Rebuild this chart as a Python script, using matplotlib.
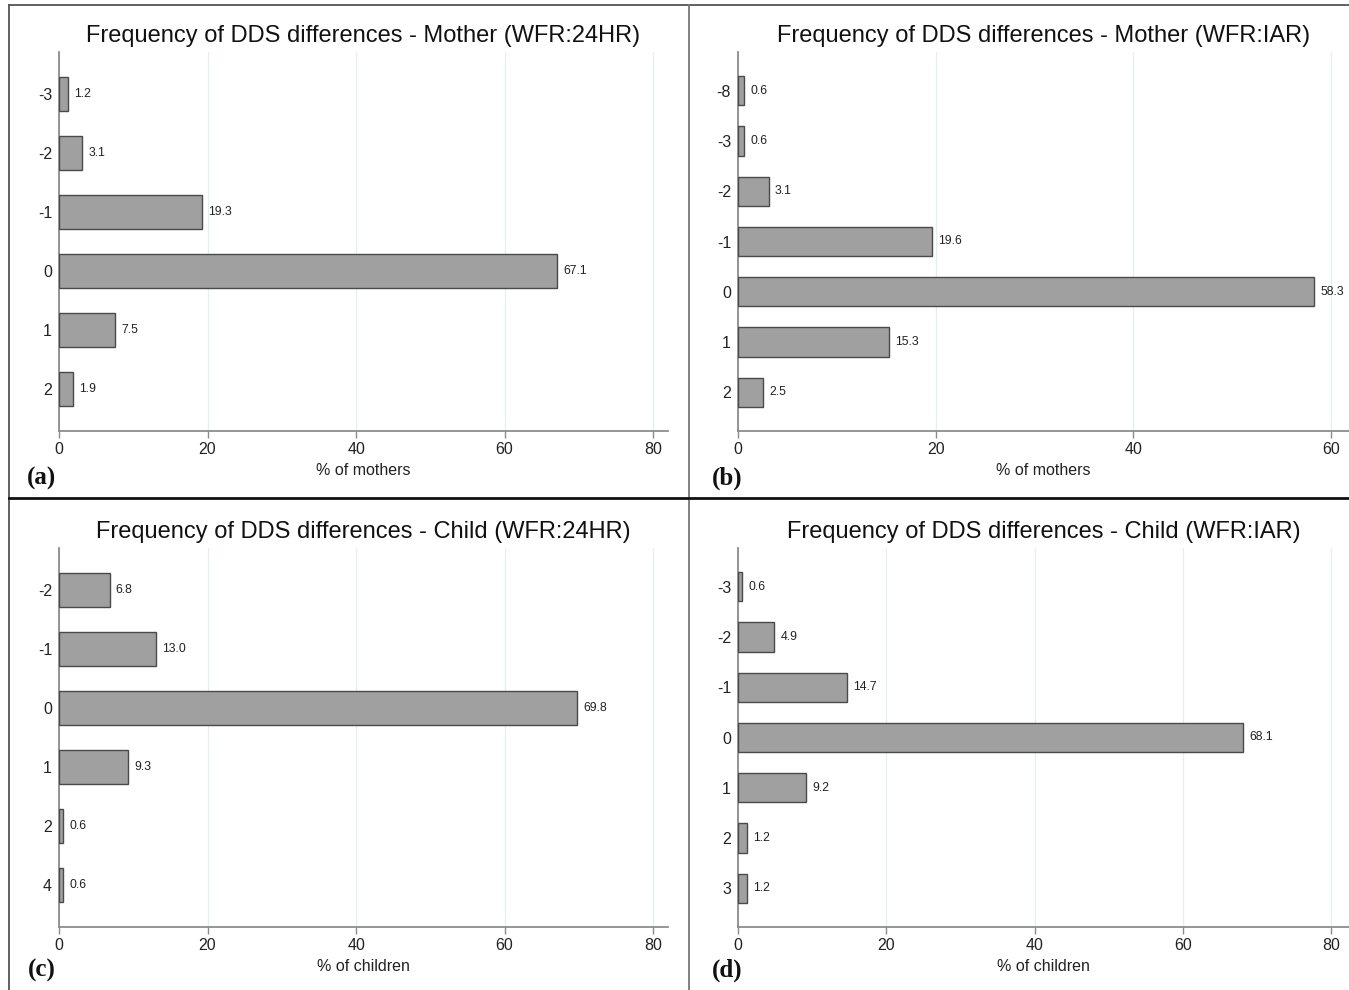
import matplotlib
matplotlib.use("Agg")
import matplotlib.pyplot as plt
from matplotlib.lines import Line2D

W, H = 1349, 990
plt.rcParams['font.family'] = ['Liberation Sans', 'DejaVu Sans']

# ---- data ----
cats_a = ['-3', '-2', '-1', '0', '1', '2']
vals_a = [1.2, 3.1, 19.3, 67.1, 7.5, 1.9]
cats_b = ['-8', '-3', '-2', '-1', '0', '1', '2']
vals_b = [0.6, 0.6, 3.1, 19.6, 58.3, 15.3, 2.5]
cats_c = ['-2', '-1', '0', '1', '2', '4']
vals_c = [6.8, 13.0, 69.8, 9.3, 0.6, 0.6]
cats_d = ['-3', '-2', '-1', '0', '1', '2', '3']
vals_d = [0.6, 4.9, 14.7, 68.1, 9.2, 1.2, 1.2]

titles = ['Frequency of DDS differences - Mother (WFR:24HR)',
          'Frequency of DDS differences - Mother (WFR:IAR)',
          'Frequency of DDS differences - Child (WFR:24HR)',
          'Frequency of DDS differences - Child (WFR:IAR)']
xlabels = ['% of mothers', '% of mothers', '% of children', '% of children']
panel_tags = ['(a)', '(b)', '(c)', '(d)']
xticks_a = [0, 20, 40, 60, 80]
xticks_b = [0, 20, 40, 60]

fig = plt.figure(figsize=(W / 100, H / 100), dpi=100)

def px_axes(l, r, t, b):
    return fig.add_axes([l / W, 1 - b / H, (r - l) / W, (b - t) / H])

panels = [
    dict(box=(59, 668, 52, 431), cats=cats_a, vals=vals_a, xmax=82.0, ticks=xticks_a, pad=0.71, ty=36),
    dict(box=(738, 1349, 52, 431), cats=cats_b, vals=vals_b, xmax=61.8, ticks=xticks_b, pad=0.77, ty=36),
    dict(box=(59, 668, 548, 927), cats=cats_c, vals=vals_c, xmax=82.0, ticks=xticks_a, pad=0.71, ty=532),
    dict(box=(738, 1349, 548, 927), cats=cats_d, vals=vals_d, xmax=82.4, ticks=xticks_a, pad=0.77, ty=532),
]
tag_pos = [(42, 478), (727, 478), (42, 970), (727, 970)]

axis_col = '#8c8c8c'
for i, p in enumerate(panels):
    l, r, t, b = p['box']
    ax = px_axes(l, r, t, b)
    n = len(p['cats'])
    ypos = list(range(n))
    ax.barh(ypos, p['vals'], height=0.58, color='#a0a0a0', edgecolor='#4a4a4a', linewidth=1.0, zorder=3)
    for y, v in zip(ypos, p['vals']):
        ax.annotate(f'{v:.1f}', xy=(v, y), xytext=(4.5, 0), textcoords='offset points',
                    va='center', ha='left', fontsize=8.8, color='#222222', zorder=4)
    ax.set_ylim(n - 1 + p['pad'], -p['pad'])
    ax.set_xlim(0, p['xmax'])
    ax.set_yticks(ypos)
    ax.set_yticklabels(p['cats'])
    ax.set_xticks(p['ticks'])
    ax.grid(axis='x', color='#e6eef0', linewidth=0.9, zorder=0)
    ax.set_axisbelow(True)
    for s in ['top', 'right']:
        ax.spines[s].set_visible(False)
    for s in ['left', 'bottom']:
        ax.spines[s].set_color(axis_col)
        ax.spines[s].set_linewidth(1.3)
    ax.tick_params(axis='x', colors=axis_col, labelcolor='#222222', labelsize=11.5,
                   length=5, width=1.0, pad=3)
    ax.tick_params(axis='y', colors=axis_col, labelcolor='#222222', labelsize=11.5,
                   length=0, pad=5)
    ax.set_xlabel(xlabels[i], fontsize=11.5, color='#222222', labelpad=4)
    fig.text((l + r) / 2 / W, 1 - p['ty'] / H, titles[i], ha='center', va='center',
             fontsize=17, color='#111111')
    tx, ty = tag_pos[i]
    fig.text(tx / W, 1 - ty / H, panel_tags[i], ha='center', va='center',
             fontsize=18, fontweight='bold', family='Liberation Serif', color='#111111')

# panel borders
def fline(x0, y0, x1, y1, color, lw):
    fig.add_artist(Line2D([x0 / W, x1 / W], [1 - y0 / H, 1 - y1 / H],
                          transform=fig.transFigure, color=color, linewidth=lw))

fline(9, 5, W, 5, '#555555', 1.3)
fline(9, 5, 9, H, '#555555', 1.3)
fline(689, 5, 689, H, '#777777', 1.3)
fline(9, 498, W, 498, '#111111', 2.0)

fig.savefig('out.png', dpi=100)
